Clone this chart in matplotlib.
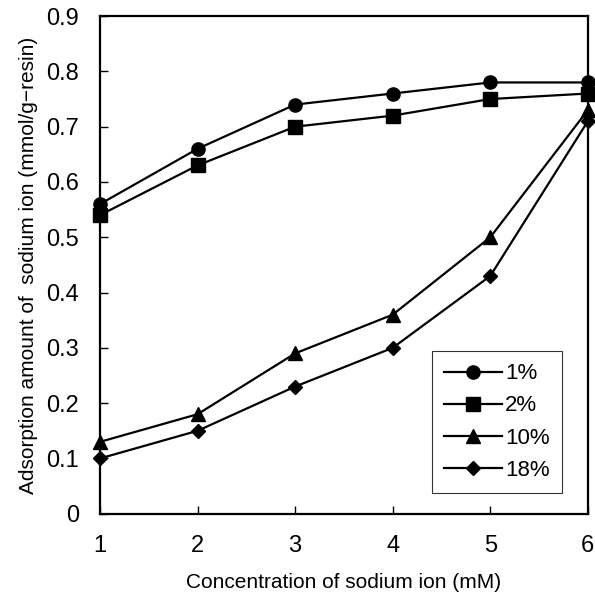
import matplotlib
matplotlib.use('Agg')
import matplotlib.pyplot as plt

plt.rcParams['font.family'] = ['Liberation Sans', 'DejaVu Sans']

# data
conc = [1, 2, 3, 4, 5, 6]
s1 = [0.56, 0.66, 0.74, 0.76, 0.78, 0.78]
s2 = [0.54, 0.63, 0.70, 0.72, 0.75, 0.76]
s10 = [0.13, 0.18, 0.29, 0.36, 0.50, 0.73]
s18 = [0.10, 0.15, 0.23, 0.30, 0.43, 0.71]
labels = ['1%', '2%', '10%', '18%']
markers = ['o', 's', '^', 'D']
msizes = [9.5, 9.5, 9.5, 7.5]

fig = plt.figure(figsize=(5.95, 5.96), dpi=100)
ax = fig.add_axes([0.168, 0.138, 0.820, 0.835])

for y, lab, m, ms in zip([s1, s2, s10, s18], labels, markers, msizes):
    ax.plot(conc, y, color='black', lw=1.6, marker=m, ms=ms, label=lab, clip_on=False, zorder=3)

ax.set_xlim(1, 6)
ax.set_ylim(0, 0.9)
ax.set_xticks(conc)
ax.set_yticks([i / 10 for i in range(10)])
ax.set_yticklabels(['0'] + ['%.1f' % (i / 10) for i in range(1, 10)])
ax.tick_params(direction='in', length=6, width=1, labelsize=17)
ax.tick_params(axis='x', pad=15)
ax.tick_params(axis='y', pad=15)
for sp in ax.spines.values():
    sp.set_linewidth(1.6)

ax.set_xlabel('Concentration of sodium ion (mM)', fontsize=15, labelpad=12)
ax.set_ylabel('Adsorption amount of  sodium ion (mmol/g\u2212resin)', fontsize=15, labelpad=6)

leg = ax.legend(loc='lower right', bbox_to_anchor=(0.947, 0.042), fontsize=16,
                frameon=True, fancybox=False, edgecolor='black', handlelength=2.6,
                labelspacing=0.5, borderpad=0.55, handletextpad=0.15, borderaxespad=0)
leg.get_frame().set_linewidth(0.8)

fig.savefig('out.png', dpi=100)
